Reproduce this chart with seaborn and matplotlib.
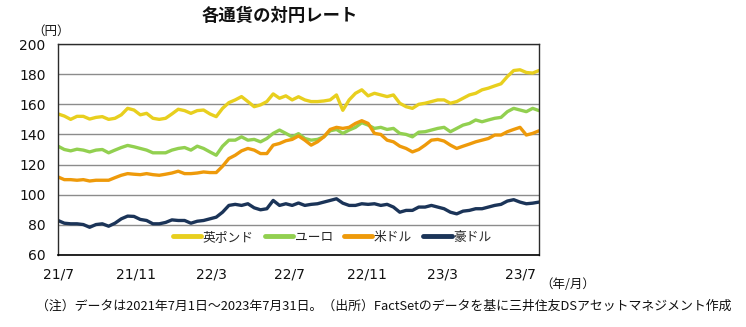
import numpy as np
import pandas as pd
import matplotlib
matplotlib.use("Agg")
import matplotlib.pyplot as plt
import seaborn as sns

# ---- data (one point every 10 days) ----
dates = pd.date_range("2021-07-01", "2023-07-31", freq="10D")

gbp = [153.6, 152.2, 150.0, 152.0, 152.0, 150.2, 151.3, 151.8, 150.0, 150.7,
       153.0, 157.3, 156.2, 153.0, 154.0, 150.7, 150.0, 150.7, 153.6, 156.7,
       155.8, 154.0, 155.8, 156.2, 153.6, 151.8, 157.3, 161.1, 162.9, 165.1,
       161.8, 158.4, 159.6, 161.8, 166.9, 164.0, 165.6, 162.9, 165.0,
       162.9, 161.8, 161.8, 162.2, 162.9, 166.2, 156.0, 162.9, 167.3, 169.6,
       165.6, 167.3, 166.2, 165.1, 166.2, 160.7, 158.4, 157.3, 160.0,
       160.7, 161.8, 162.9, 162.9, 160.7, 161.8, 164.0, 166.2, 167.3, 169.6,
       170.7, 172.2, 173.6, 178.4, 182.4, 182.9, 181.1, 180.7, 182.4]

eur = [132.2, 130.0, 129.1, 130.2, 129.6, 128.4, 129.6, 130.0, 127.8, 129.6,
       131.3, 132.7, 131.8, 130.7, 129.6, 127.8, 127.8, 127.8, 129.6, 130.7,
       131.3, 129.6, 132.2, 130.7, 128.4, 126.2, 132.2, 136.2, 136.2, 138.4,
       136.2, 136.7, 135.1, 137.3, 140.7, 142.9, 140.7, 138.4, 140.5,
       137.3, 136.2, 136.7, 138.4, 142.4, 143.3, 140.7, 142.9, 144.7, 147.8,
       146.2, 144.0, 144.7, 143.3, 144.0, 140.7, 140.0, 138.4, 141.5,
       141.8, 142.9, 144.0, 144.7, 141.8, 144.0, 146.2, 147.3, 149.6, 148.4,
       149.6, 150.7, 151.3, 155.1, 157.3, 156.2, 155.1, 157.3, 155.8]

usd = [111.8, 110.0, 110.0, 109.6, 110.0, 109.1, 109.6, 109.6, 109.6, 111.3,
       112.9, 114.0, 113.6, 113.3, 114.0, 113.3, 112.9, 113.6, 114.4, 115.6,
       114.0, 114.0, 114.4, 115.1, 114.7, 114.7, 118.9, 124.0, 126.2, 129.1,
       130.7, 129.6, 127.3, 127.3, 132.9, 134.0, 135.8, 136.7, 139.0,
       136.2, 132.9, 135.1, 138.4, 143.3, 144.7, 144.0, 144.7, 147.3, 149.1,
       147.3, 140.7, 140.0, 136.2, 135.1, 132.2, 130.7, 128.4, 130.0,
       132.9, 136.2, 136.7, 135.6, 132.9, 130.7, 132.2, 133.6, 135.1, 136.2,
       137.3, 139.6, 139.6, 141.8, 143.3, 144.7, 139.6, 140.7, 142.4]

aud = [82.9, 81.1, 80.7, 80.7, 80.2, 78.4, 80.2, 80.7, 79.1, 81.1,
       84.0, 85.8, 85.6, 83.6, 82.9, 80.7, 80.7, 81.6, 83.3, 82.9,
       82.9, 81.1, 82.4, 82.9, 84.0, 85.1, 88.4, 92.9, 93.6, 92.9,
       94.0, 91.3, 90.0, 90.7, 96.2, 92.9, 94.0, 92.9, 94.5,
       92.9, 93.6, 94.0, 95.1, 96.2, 97.3, 94.4, 92.9, 92.9, 94.0,
       93.6, 94.0, 92.9, 93.6, 91.8, 88.4, 89.6, 89.6, 91.8,
       91.8, 92.9, 91.8, 90.7, 88.4, 87.3, 89.1, 89.6, 90.7, 90.7,
       91.8, 92.9, 93.6, 95.8, 96.7, 95.1, 94.0, 94.4, 95.1]

series_names = ["英ポンド", "ユーロ", "米ドル", "豪ドル"]
series_colors = ["#E8CF1E", "#92D050", "#EE9A0A", "#1B3458"]

tick_dates = ["2021-07-01", "2021-11-01", "2022-03-01", "2022-07-01",
              "2022-11-01", "2023-03-01", "2023-07-01"]
tick_labels = ["21/7", "21/11", "22/3", "22/7", "22/11", "23/3", "23/7"]
y_ticks = [60, 80, 100, 120, 140, 160, 180, 200]

title = "各通貨の対円レート"
note = "（注）データは2021年7月1日～2023年7月31日。（出所）FactSetのデータを基に三井住友DSアセットマネジメント作成"

# ---- build long table ----
df = pd.DataFrame({
    "date": np.tile(dates, 4),
    "value": np.concatenate([gbp, eur, usd, aud]),
    "currency": np.repeat(series_names, len(dates)),
})

sns.set_style("white")
plt.rcParams["font.family"] = ["Noto Sans CJK JP", "DejaVu Sans"]

W, H = 746, 327
fig = plt.figure(figsize=(W / 100, H / 100), dpi=100)
ax = fig.add_axes([58 / W, 1 - 255 / H, (539 - 58) / W, (255 - 44) / H])

sns.lineplot(data=df, x="date", y="value", hue="currency",
             hue_order=series_names,
             palette=dict(zip(series_names, series_colors)),
             linewidth=2.4, ax=ax)

ax.set_xlim(dates[0], pd.Timestamp("2023-07-31"))
ax.set_ylim(60, 200)
ax.set_yticks(y_ticks)
ax.set_xticks(pd.to_datetime(tick_dates))
ax.set_xticklabels(tick_labels)
ax.set_xlabel("")
ax.set_ylabel("")

ax.yaxis.grid(True, color="#8c8c8c", linewidth=1)
ax.xaxis.grid(False)
ax.set_axisbelow(True)

for s in ["left", "top", "right"]:
    ax.spines[s].set_color("#2b2b2b")
    ax.spines[s].set_linewidth(1)
ax.spines["bottom"].set_color("#000000")
ax.spines["bottom"].set_linewidth(1.2)

ax.tick_params(axis="both", direction="in", length=5, width=1, color="#222222",
               labelsize=10, labelcolor="#111111")
ax.tick_params(axis="y", pad=9)
ax.tick_params(axis="x", pad=9)
for lab in ax.get_xticklabels() + ax.get_yticklabels():
    lab.set_fontfamily("DejaVu Sans")

handles, labels = ax.get_legend_handles_labels()
leg = ax.legend(handles, labels, loc="center", bbox_to_anchor=(0.57, 0.085),
                ncol=4, frameon=False, fontsize=9.2, handlelength=2.2,
                handletextpad=0.1, columnspacing=0.9)
for ln in leg.get_lines():
    ln.set_linewidth(3.5)

fig.text(280 / W, 1 - 16 / H, title, ha="center", va="center",
         fontsize=12.5, fontweight="bold", color="#111111")
fig.text(51 / W, 1 - 31 / H, "（円）", ha="center", va="center",
         fontsize=9, color="#111111")
fig.text(568 / W, 1 - 285 / H, "（年/月）", ha="center", va="center",
         fontsize=9, color="#111111")
fig.text(36 / W, 1 - 306 / H, note, ha="left", va="center",
         fontsize=9.3, color="#111111")

fig.savefig("out.png", dpi=100)
